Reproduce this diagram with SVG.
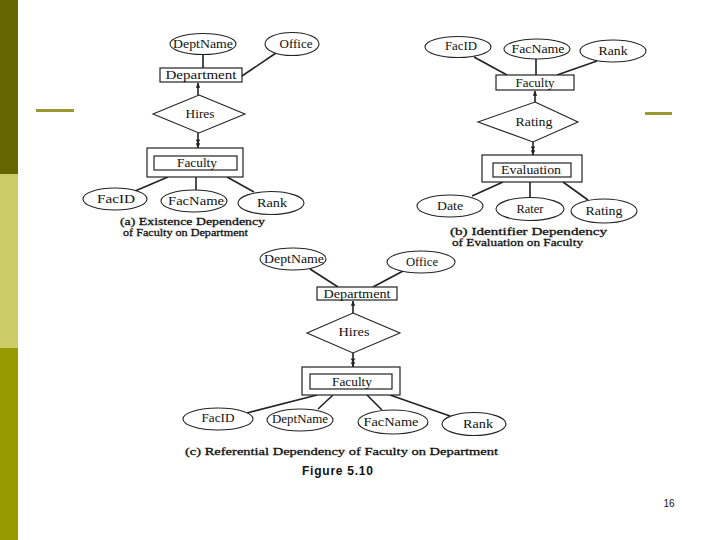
<svg xmlns="http://www.w3.org/2000/svg" width="720" height="540" viewBox="0 0 720 540">
<style>
.t{font-family:"Liberation Serif","Times New Roman",serif;font-size:12.5px;fill:#111;text-anchor:middle;dominant-baseline:central}
.cap{font-family:"Liberation Serif","Times New Roman",serif;font-size:11px;fill:#111;stroke:#111;stroke-width:0.3;text-anchor:start}
.e{fill:#fff;stroke:#222;stroke-width:1.1}
.r{fill:#fff;stroke:#222;stroke-width:1.2}
.d{fill:#fff;stroke:#222;stroke-width:1.1}
.l{stroke:#222;stroke-width:1.6;fill:none}
</style>
<defs>
<marker id="one" viewBox="0 0 8 8" refX="7.5" refY="4" markerWidth="5" markerHeight="5" orient="auto" markerUnits="userSpaceOnUse">
<path d="M0,0.5 L8,4 L0,7.5 Z" fill="#222"/>
</marker>
<marker id="two" viewBox="0 0 14 8" refX="13.5" refY="4" markerWidth="9" markerHeight="5" orient="auto" markerUnits="userSpaceOnUse">
<path d="M0,0.5 L7,4 L0,7.5 Z M6,0.5 L14,4 L6,7.5 Z" fill="#222"/>
</marker>
</defs>
<rect width="720" height="540" fill="#fff"/>
<g id="sidebar">
<rect x="0" y="0" width="18" height="174" fill="#666600"/>
<rect x="0" y="174" width="18" height="174" fill="#cccc66"/>
<rect x="0" y="348" width="18" height="192" fill="#999900"/>
<rect x="36" y="109" width="38" height="3" fill="#999933"/>
<rect x="645" y="112" width="27" height="3" fill="#999933"/>
</g>
<g id="connectors">
<line class="l" x1="203" y1="55" x2="203" y2="68"/>
<line class="l" x1="276" y1="53" x2="242" y2="76"/>
<line class="l" x1="198" y1="95" x2="198" y2="83" marker-end="url(#one)"/>
<line class="l" x1="198" y1="133" x2="198" y2="148" marker-end="url(#two)"/>
<line class="l" x1="168" y1="177" x2="135" y2="191"/>
<line class="l" x1="196" y1="177" x2="196" y2="190"/>
<line class="l" x1="227" y1="177" x2="254" y2="192"/>
<line class="l" x1="474" y1="57" x2="507" y2="75"/>
<line class="l" x1="536" y1="59" x2="536" y2="75"/>
<line class="l" x1="597" y1="61" x2="557" y2="75"/>
<line class="l" x1="535" y1="102" x2="535" y2="91" marker-end="url(#one)"/>
<line class="l" x1="533" y1="142" x2="533" y2="155" marker-end="url(#two)"/>
<line class="l" x1="503" y1="182" x2="472" y2="196"/>
<line class="l" x1="530" y1="182" x2="530" y2="197"/>
<line class="l" x1="563" y1="182" x2="588" y2="200"/>
<line class="l" x1="310" y1="269" x2="338" y2="287"/>
<line class="l" x1="403" y1="271" x2="373" y2="287"/>
<line class="l" x1="353" y1="313" x2="353" y2="301" marker-end="url(#one)"/>
<line class="l" x1="353" y1="353" x2="353" y2="367" marker-end="url(#two)"/>
<line class="l" x1="317" y1="395" x2="247" y2="413"/>
<line class="l" x1="333" y1="395" x2="318" y2="409"/>
<line class="l" x1="367" y1="395" x2="382" y2="410"/>
<line class="l" x1="390" y1="395" x2="450" y2="416"/>
</g>
<g id="a-deptname"><ellipse class="e" cx="203" cy="44" rx="33" ry="10.5"/><text class="t" x="203" y="44" textLength="60" lengthAdjust="spacingAndGlyphs">DeptName</text></g>
<g id="a-office"><ellipse class="e" cx="292" cy="44" rx="27" ry="11.5"/><text class="t" x="296" y="44" textLength="33" lengthAdjust="spacingAndGlyphs">Office</text></g>
<g id="a-department"><rect class="r" x="160" y="68" width="82" height="14"/><text class="t" x="201" y="75" textLength="71" lengthAdjust="spacingAndGlyphs">Department</text></g>
<g id="a-hires"><polygon class="d" points="199,95 245,114 199,133 153,114"/><text class="t" x="200" y="114" textLength="29" lengthAdjust="spacingAndGlyphs">Hires</text></g>
<g id="a-faculty"><rect class="r" x="147" y="148" width="96" height="29"/><rect class="r" x="154" y="156" width="83" height="14"/><text class="t" x="197" y="163" textLength="40" lengthAdjust="spacingAndGlyphs">Faculty</text></g>
<g id="a-facid"><ellipse class="e" cx="115" cy="199" rx="32" ry="11"/><text class="t" x="116" y="199" textLength="38" lengthAdjust="spacingAndGlyphs">FacID</text></g>
<g id="a-facname"><ellipse class="e" cx="194" cy="201" rx="33" ry="11"/><text class="t" x="196" y="201" textLength="56" lengthAdjust="spacingAndGlyphs">FacName</text></g>
<g id="a-rank"><ellipse class="e" cx="271" cy="203" rx="33" ry="11.5"/><text class="t" x="272" y="203" textLength="30" lengthAdjust="spacingAndGlyphs">Rank</text></g>
<text class="cap" x="120" y="225" textLength="145" lengthAdjust="spacingAndGlyphs">(a) Existence Dependency</text>
<text class="cap" x="123" y="236" textLength="125" lengthAdjust="spacingAndGlyphs">of Faculty on Department</text>
<g id="b-facid"><ellipse class="e" cx="458" cy="47" rx="33" ry="10.5"/><text class="t" x="461" y="46" textLength="32" lengthAdjust="spacingAndGlyphs">FacID</text></g>
<g id="b-facname"><ellipse class="e" cx="537" cy="49" rx="33" ry="10"/><text class="t" x="538" y="49" textLength="53" lengthAdjust="spacingAndGlyphs">FacName</text></g>
<g id="b-rank"><ellipse class="e" cx="613" cy="51" rx="33" ry="11"/><text class="t" x="613" y="51" textLength="29" lengthAdjust="spacingAndGlyphs">Rank</text></g>
<g id="b-faculty"><rect class="r" x="496" y="75" width="78" height="15"/><text class="t" x="535" y="82.5" textLength="39" lengthAdjust="spacingAndGlyphs">Faculty</text></g>
<g id="b-rating"><polygon class="d" points="535,102 578,122 533,142 478,122"/><text class="t" x="534" y="122" textLength="37" lengthAdjust="spacingAndGlyphs">Rating</text></g>
<g id="b-evaluation"><rect class="r" x="482" y="155" width="100" height="27"/><rect class="r" x="493" y="163" width="78" height="14"/><text class="t" x="531" y="170" textLength="60" lengthAdjust="spacingAndGlyphs">Evaluation</text></g>
<g id="b-date"><ellipse class="e" cx="450" cy="206" rx="33" ry="11"/><text class="t" x="450" y="206" textLength="26" lengthAdjust="spacingAndGlyphs">Date</text></g>
<g id="b-rater"><ellipse class="e" cx="530" cy="209" rx="34" ry="11.5"/><text class="t" x="530" y="209" textLength="27" lengthAdjust="spacingAndGlyphs">Rater</text></g>
<g id="b-ratingattr"><ellipse class="e" cx="604" cy="211" rx="33" ry="12"/><text class="t" x="604" y="211" textLength="37" lengthAdjust="spacingAndGlyphs">Rating</text></g>
<text class="cap" x="450" y="235" textLength="157" lengthAdjust="spacingAndGlyphs">(b) Identifier Dependency</text>
<text class="cap" x="452" y="246" textLength="131" lengthAdjust="spacingAndGlyphs">of Evaluation on Faculty</text>
<g id="c-deptname"><ellipse class="e" cx="293" cy="259" rx="33" ry="11"/><text class="t" x="294" y="259" textLength="60" lengthAdjust="spacingAndGlyphs">DeptName</text></g>
<g id="c-office"><ellipse class="e" cx="421" cy="262" rx="34" ry="11"/><text class="t" x="422" y="262" textLength="32" lengthAdjust="spacingAndGlyphs">Office</text></g>
<g id="c-department"><rect class="r" x="317" y="287" width="80" height="13"/><text class="t" x="357" y="293.5" textLength="67" lengthAdjust="spacingAndGlyphs">Department</text></g>
<g id="c-hires"><polygon class="d" points="353,313 400,333 353,353 307,333"/><text class="t" x="354" y="332" textLength="31" lengthAdjust="spacingAndGlyphs">Hires</text></g>
<g id="c-faculty"><rect class="r" x="302" y="367" width="98" height="28"/><rect class="r" x="310" y="374" width="82" height="15"/><text class="t" x="352" y="381.5" textLength="40" lengthAdjust="spacingAndGlyphs">Faculty</text></g>
<g id="c-facid"><ellipse class="e" cx="218" cy="419" rx="35" ry="11"/><text class="t" x="218" y="418" textLength="33" lengthAdjust="spacingAndGlyphs">FacID</text></g>
<g id="c-deptname2"><ellipse class="e" cx="300" cy="420" rx="33" ry="11"/><text class="t" x="300" y="419" textLength="56" lengthAdjust="spacingAndGlyphs">DeptName</text></g>
<g id="c-facname"><ellipse class="e" cx="393" cy="422" rx="35" ry="12"/><text class="t" x="391" y="422" textLength="55" lengthAdjust="spacingAndGlyphs">FacName</text></g>
<g id="c-rank"><ellipse class="e" cx="474" cy="424" rx="32" ry="11.5"/><text class="t" x="478" y="424" textLength="30" lengthAdjust="spacingAndGlyphs">Rank</text></g>
<text class="cap" x="185" y="455" textLength="313" lengthAdjust="spacingAndGlyphs">(c) Referential Dependency of Faculty on Department</text>
<text x="302" y="475" font-family="Liberation Sans, Arial, sans-serif" font-size="12" font-weight="bold" fill="#111" textLength="71" lengthAdjust="spacing">Figure  5.10</text>
<text x="669" y="507" font-family="Liberation Sans, Arial, sans-serif" font-size="10" fill="#111" text-anchor="middle">16</text>
</svg>
